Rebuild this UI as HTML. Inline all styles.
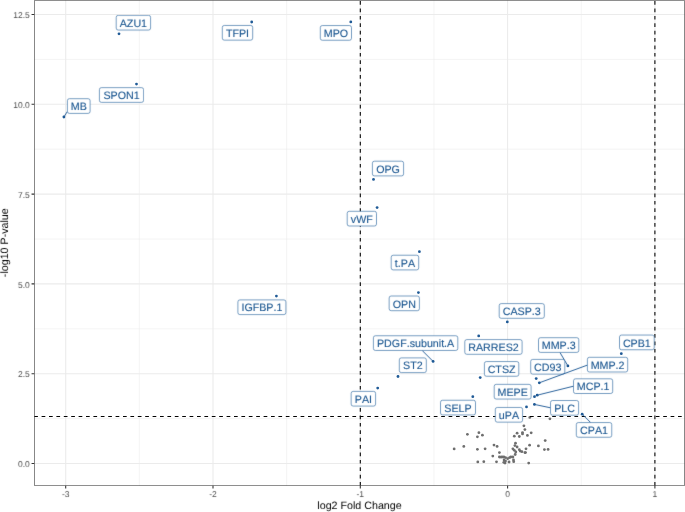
<!DOCTYPE html><html><head><meta charset="utf-8"><style>html,body{margin:0;padding:0;background:#fff;width:685px;height:512px;overflow:hidden}svg{display:block;will-change:transform}text{font-family:"Liberation Sans",sans-serif;font-kerning:none;text-rendering:geometricPrecision}</style></head><body>
<svg width="685" height="512" viewBox="0 0 685 512">
<defs><filter id="bl" x="0" y="0" width="685" height="512" filterUnits="userSpaceOnUse" color-interpolation-filters="sRGB"><feConvolveMatrix order="3" kernelMatrix="0.0064 0.0672 0.0064 0.0672 0.7056 0.0672 0.0064 0.0672 0.0064" edgeMode="duplicate"/></filter>
<clipPath id="pc"><rect x="34.2" y="0.2" width="650.60" height="485.60"/></clipPath></defs>
<rect x="0" y="0" width="685" height="512" fill="#fff"/>
<path d="M139.35 0.2V485.8M286.65 0.2V485.8M433.95 0.2V485.8M581.25 0.2V485.8M34.2 418.60H684.8M34.2 328.80H684.8M34.2 239.00H684.8M34.2 149.20H684.8M34.2 59.40H684.8" stroke="#ebebeb" stroke-width="0.535" fill="none"/>
<path d="M65.70 0.2V485.8M213.00 0.2V485.8M360.30 0.2V485.8M507.60 0.2V485.8M654.90 0.2V485.8M34.2 463.50H684.8M34.2 373.70H684.8M34.2 283.90H684.8M34.2 194.10H684.8M34.2 104.30H684.8M34.2 14.50H684.8" stroke="#ebebeb" stroke-width="1.07" fill="none"/>
<g>
<g fill="#6e6e6e">
<circle cx="467.4" cy="434.3" r="1.4"/>
<circle cx="478.9" cy="432.7" r="1.4"/>
<circle cx="477.4" cy="436.8" r="1.4"/>
<circle cx="482.4" cy="435.2" r="1.4"/>
<circle cx="454.15" cy="448.9" r="1.4"/>
<circle cx="463.8" cy="446.4" r="1.4"/>
<circle cx="477.4" cy="449.3" r="1.4"/>
<circle cx="485.1" cy="448.8" r="1.4"/>
<circle cx="494.0" cy="445.1" r="1.4"/>
<circle cx="497.1" cy="446.4" r="1.4"/>
<circle cx="499.4" cy="452.6" r="1.4"/>
<circle cx="492.8" cy="456.1" r="1.4"/>
<circle cx="477.8" cy="461.9" r="1.4"/>
<circle cx="483.8" cy="461.7" r="1.4"/>
<circle cx="496.5" cy="461.8" r="1.4"/>
<circle cx="523.9" cy="425.8" r="1.4"/>
<circle cx="524.9" cy="429.6" r="1.4"/>
<circle cx="517.1" cy="433.2" r="1.4"/>
<circle cx="522.5" cy="432.6" r="1.4"/>
<circle cx="522.5" cy="433.9" r="1.4"/>
<circle cx="514.3" cy="436.2" r="1.4"/>
<circle cx="519.3" cy="436.5" r="1.4"/>
<circle cx="527.4" cy="435.4" r="1.4"/>
<circle cx="531.2" cy="432.8" r="1.4"/>
<circle cx="515.5" cy="443.2" r="1.4"/>
<circle cx="514.9" cy="445.6" r="1.4"/>
<circle cx="517.1" cy="447.0" r="1.4"/>
<circle cx="529.6" cy="445.2" r="1.4"/>
<circle cx="526.0" cy="448.8" r="1.4"/>
<circle cx="512.9" cy="448.8" r="1.4"/>
<circle cx="514.3" cy="450.3" r="1.4"/>
<circle cx="515.8" cy="452.0" r="1.4"/>
<circle cx="515.2" cy="454.5" r="1.4"/>
<circle cx="519.3" cy="449.7" r="1.4"/>
<circle cx="520.2" cy="451.1" r="1.4"/>
<circle cx="521.9" cy="451.7" r="1.4"/>
<circle cx="524.9" cy="452.6" r="1.4"/>
<circle cx="499.4" cy="457.0" r="1.4"/>
<circle cx="502.0" cy="457.0" r="1.4"/>
<circle cx="503.8" cy="457.0" r="1.4"/>
<circle cx="505.5" cy="457.6" r="1.4"/>
<circle cx="504.1" cy="459.9" r="1.4"/>
<circle cx="503.8" cy="462.3" r="1.4"/>
<circle cx="505.5" cy="461.1" r="1.4"/>
<circle cx="507.6" cy="458.7" r="1.4"/>
<circle cx="509.1" cy="462.0" r="1.4"/>
<circle cx="509.6" cy="457.6" r="1.4"/>
<circle cx="510.8" cy="457.0" r="1.4"/>
<circle cx="512.9" cy="457.0" r="1.4"/>
<circle cx="513.5" cy="459.9" r="1.4"/>
<circle cx="513.7" cy="461.7" r="1.4"/>
<circle cx="528.7" cy="463.1" r="1.4"/>
<circle cx="529.8" cy="417.4" r="1.4"/>
<circle cx="549.9" cy="418.8" r="1.4"/>
<circle cx="545.2" cy="440.6" r="1.4"/>
<circle cx="538.4" cy="445.9" r="1.4"/>
<circle cx="544.4" cy="449.6" r="1.4"/>
<circle cx="548.1" cy="449.4" r="1.4"/>
<circle cx="525.5" cy="452.6" r="1.4"/>
<circle cx="500.8" cy="457.1" r="1.4"/>
<circle cx="505.0" cy="463.0" r="1.4"/>
</g>
<g fill="#1f5a96">
<circle cx="119.0" cy="33.8" r="1.4"/>
<circle cx="251.7" cy="22.0" r="1.4"/>
<circle cx="350.8" cy="21.9" r="1.4"/>
<circle cx="136.5" cy="84.1" r="1.4"/>
<circle cx="63.9" cy="117.0" r="1.4"/>
<circle cx="373.5" cy="179.4" r="1.4"/>
<circle cx="377.1" cy="207.6" r="1.4"/>
<circle cx="419.4" cy="251.7" r="1.4"/>
<circle cx="418.4" cy="292.6" r="1.4"/>
<circle cx="276.4" cy="296.1" r="1.4"/>
<circle cx="507.3" cy="321.9" r="1.4"/>
<circle cx="433.1" cy="361.4" r="1.4"/>
<circle cx="478.7" cy="335.9" r="1.4"/>
<circle cx="567.9" cy="365.9" r="1.4"/>
<circle cx="621.3" cy="353.7" r="1.4"/>
<circle cx="536.2" cy="378.6" r="1.4"/>
<circle cx="539.3" cy="382.8" r="1.4"/>
<circle cx="398.0" cy="376.5" r="1.4"/>
<circle cx="480.2" cy="377.6" r="1.4"/>
<circle cx="534.5" cy="396.7" r="1.4"/>
<circle cx="537.2" cy="395.2" r="1.4"/>
<circle cx="377.7" cy="388.1" r="1.4"/>
<circle cx="472.8" cy="396.7" r="1.4"/>
<circle cx="526.5" cy="406.9" r="1.4"/>
<circle cx="534.4" cy="404.4" r="1.4"/>
<circle cx="582.2" cy="414.2" r="1.4"/>
</g></g>
<path d="M34.2 416.5H684.8" stroke="#000" stroke-width="1.07" stroke-dasharray="3.7 3.7" fill="none"/>
<path d="M360.30 485.8V0.2" stroke="#000" stroke-width="1.07" stroke-dasharray="3.7 3.7" fill="none"/>
<path d="M654.90 485.8V0.2" stroke="#000" stroke-width="1.07" stroke-dasharray="3.7 3.7" fill="none"/>
<g filter="url(#bl)">
<rect x="116.2" y="15.35" width="34.40" height="14.7" rx="2" ry="2" fill="#fff" stroke="#1d5c99" stroke-width="0.6"/>
<text transform="translate(133.40 26.90) scale(1.0 1)" font-size="10.7" fill="#1a5690" stroke="#1a5690" stroke-width="0.12" text-anchor="middle">AZU1</text>
<rect x="222.3" y="25.45" width="30.40" height="14.7" rx="2" ry="2" fill="#fff" stroke="#1d5c99" stroke-width="0.6"/>
<text transform="translate(237.50 37.00) scale(1.0 1)" font-size="10.7" fill="#1a5690" stroke="#1a5690" stroke-width="0.12" text-anchor="middle">TFPI</text>
<rect x="320.3" y="25.55" width="31.20" height="14.7" rx="2" ry="2" fill="#fff" stroke="#1d5c99" stroke-width="0.6"/>
<text transform="translate(335.90 37.10) scale(1.0 1)" font-size="10.7" fill="#1a5690" stroke="#1a5690" stroke-width="0.12" text-anchor="middle">MPO</text>
<rect x="99.4" y="87.65" width="44.20" height="14.7" rx="2" ry="2" fill="#fff" stroke="#1d5c99" stroke-width="0.6"/>
<text transform="translate(121.50 99.20) scale(1.0 1)" font-size="10.7" fill="#1a5690" stroke="#1a5690" stroke-width="0.12" text-anchor="middle">SPON1</text>
<path d="M63.9 117.0L67.4 111.4" stroke="#1f5a96" stroke-width="0.95" fill="none"/>
<rect x="67.4" y="98.70" width="22.70" height="14.7" rx="2" ry="2" fill="#fff" stroke="#1d5c99" stroke-width="0.6"/>
<text transform="translate(78.75 110.25) scale(1.0 1)" font-size="10.7" fill="#1a5690" stroke="#1a5690" stroke-width="0.12" text-anchor="middle">MB</text>
<rect x="372.4" y="161.20" width="31.20" height="14.7" rx="2" ry="2" fill="#fff" stroke="#1d5c99" stroke-width="0.6"/>
<text transform="translate(388.00 172.75) scale(1.0 1)" font-size="10.7" fill="#1a5690" stroke="#1a5690" stroke-width="0.12" text-anchor="middle">OPG</text>
<rect x="347.2" y="211.30" width="29.30" height="14.7" rx="2" ry="2" fill="#fff" stroke="#1d5c99" stroke-width="0.6"/>
<text transform="translate(361.85 222.85) scale(1.0 1)" font-size="10.7" fill="#1a5690" stroke="#1a5690" stroke-width="0.12" text-anchor="middle">vWF</text>
<rect x="391.2" y="255.22" width="27.50" height="14.7" rx="2" ry="2" fill="#fff" stroke="#1d5c99" stroke-width="0.6"/>
<text transform="translate(404.95 266.77) scale(1.0 1)" font-size="10.7" fill="#1a5690" stroke="#1a5690" stroke-width="0.12" text-anchor="middle">t.PA</text>
<rect x="389.15" y="296.00" width="30.25" height="14.7" rx="2" ry="2" fill="#fff" stroke="#1d5c99" stroke-width="0.6"/>
<text transform="translate(404.27 307.55) scale(1.0 1)" font-size="10.7" fill="#1a5690" stroke="#1a5690" stroke-width="0.12" text-anchor="middle">OPN</text>
<rect x="237.9" y="299.90" width="48.00" height="14.7" rx="2" ry="2" fill="#fff" stroke="#1d5c99" stroke-width="0.6"/>
<text transform="translate(261.90 311.45) scale(1.0 1)" font-size="10.7" fill="#1a5690" stroke="#1a5690" stroke-width="0.12" text-anchor="middle">IGFBP.1</text>
<rect x="499.2" y="303.60" width="45.10" height="14.7" rx="2" ry="2" fill="#fff" stroke="#1d5c99" stroke-width="0.6"/>
<text transform="translate(521.75 315.15) scale(1.0 1)" font-size="10.7" fill="#1a5690" stroke="#1a5690" stroke-width="0.12" text-anchor="middle">CASP.3</text>
<path d="M433.1 361.4L422.2 350.5" stroke="#1f5a96" stroke-width="0.95" fill="none"/>
<rect x="373.4" y="335.75" width="84.40" height="14.7" rx="2" ry="2" fill="#fff" stroke="#1d5c99" stroke-width="0.6"/>
<text transform="translate(415.60 347.30) scale(1.0 1)" font-size="10.7" fill="#1a5690" stroke="#1a5690" stroke-width="0.12" text-anchor="middle">PDGF.subunit.A</text>
<rect x="464.8" y="339.60" width="57.30" height="14.7" rx="2" ry="2" fill="#fff" stroke="#1d5c99" stroke-width="0.6"/>
<text transform="translate(493.45 351.15) scale(1.0 1)" font-size="10.7" fill="#1a5690" stroke="#1a5690" stroke-width="0.12" text-anchor="middle">RARRES2</text>
<path d="M567.9 365.9L559.9 352.4" stroke="#1f5a96" stroke-width="0.95" fill="none"/>
<rect x="538.5" y="337.70" width="40.30" height="14.7" rx="2" ry="2" fill="#fff" stroke="#1d5c99" stroke-width="0.6"/>
<text transform="translate(558.65 349.25) scale(1.0 1)" font-size="10.7" fill="#1a5690" stroke="#1a5690" stroke-width="0.12" text-anchor="middle">MMP.3</text>
<rect x="619.5" y="335.05" width="34.70" height="14.7" rx="2" ry="2" fill="#fff" stroke="#1d5c99" stroke-width="0.6"/>
<text transform="translate(636.85 346.60) scale(1.0 1)" font-size="10.7" fill="#1a5690" stroke="#1a5690" stroke-width="0.12" text-anchor="middle">CPB1</text>
<rect x="530.7" y="359.40" width="34.10" height="14.7" rx="2" ry="2" fill="#fff" stroke="#1d5c99" stroke-width="0.6"/>
<text transform="translate(547.75 370.95) scale(1.0 1)" font-size="10.7" fill="#1a5690" stroke="#1a5690" stroke-width="0.12" text-anchor="middle">CD93</text>
<path d="M539.3 382.8L587.4 365.1" stroke="#1f5a96" stroke-width="0.95" fill="none"/>
<rect x="587.4" y="357.30" width="40.30" height="14.7" rx="2" ry="2" fill="#fff" stroke="#1d5c99" stroke-width="0.6"/>
<text transform="translate(607.55 368.85) scale(1.0 1)" font-size="10.7" fill="#1a5690" stroke="#1a5690" stroke-width="0.12" text-anchor="middle">MMP.2</text>
<rect x="399.3" y="357.90" width="27.00" height="14.7" rx="2" ry="2" fill="#fff" stroke="#1d5c99" stroke-width="0.6"/>
<text transform="translate(412.80 369.45) scale(1.0 1)" font-size="10.7" fill="#1a5690" stroke="#1a5690" stroke-width="0.12" text-anchor="middle">ST2</text>
<rect x="484.4" y="361.55" width="34.40" height="14.7" rx="2" ry="2" fill="#fff" stroke="#1d5c99" stroke-width="0.6"/>
<text transform="translate(501.60 373.10) scale(1.0 1)" font-size="10.7" fill="#1a5690" stroke="#1a5690" stroke-width="0.12" text-anchor="middle">CTSZ</text>
<rect x="494.2" y="384.35" width="36.90" height="14.7" rx="2" ry="2" fill="#fff" stroke="#1d5c99" stroke-width="0.6"/>
<text transform="translate(512.65 395.90) scale(1.0 1)" font-size="10.7" fill="#1a5690" stroke="#1a5690" stroke-width="0.12" text-anchor="middle">MEPE</text>
<path d="M537.2 395.2L573.5 386.2" stroke="#1f5a96" stroke-width="0.95" fill="none"/>
<rect x="573.5" y="378.80" width="39.20" height="14.7" rx="2" ry="2" fill="#fff" stroke="#1d5c99" stroke-width="0.6"/>
<text transform="translate(593.10 390.35) scale(1.0 1)" font-size="10.7" fill="#1a5690" stroke="#1a5690" stroke-width="0.12" text-anchor="middle">MCP.1</text>
<rect x="351.15" y="391.38" width="24.45" height="14.7" rx="2" ry="2" fill="#fff" stroke="#1d5c99" stroke-width="0.6"/>
<text transform="translate(363.38 402.93) scale(1.0 1)" font-size="10.7" fill="#1a5690" stroke="#1a5690" stroke-width="0.12" text-anchor="middle">PAI</text>
<rect x="440.5" y="400.25" width="35.00" height="14.7" rx="2" ry="2" fill="#fff" stroke="#1d5c99" stroke-width="0.6"/>
<text transform="translate(458.00 411.80) scale(1.0 1)" font-size="10.7" fill="#1a5690" stroke="#1a5690" stroke-width="0.12" text-anchor="middle">SELP</text>
<rect x="495.3" y="407.45" width="27.30" height="14.7" rx="2" ry="2" fill="#fff" stroke="#1d5c99" stroke-width="0.6"/>
<text transform="translate(508.95 419.00) scale(1.0 1)" font-size="10.7" fill="#1a5690" stroke="#1a5690" stroke-width="0.12" text-anchor="middle">uPA</text>
<path d="M534.4 404.4L550.5 407.8" stroke="#1f5a96" stroke-width="0.95" fill="none"/>
<rect x="550.5" y="400.50" width="28.10" height="14.7" rx="2" ry="2" fill="#fff" stroke="#1d5c99" stroke-width="0.6"/>
<text transform="translate(564.55 412.05) scale(1.0 1)" font-size="10.7" fill="#1a5690" stroke="#1a5690" stroke-width="0.12" text-anchor="middle">PLC</text>
<path d="M582.2 414.2L590.7 422.6" stroke="#1f5a96" stroke-width="0.95" fill="none"/>
<rect x="576.3" y="422.55" width="35.45" height="14.7" rx="2" ry="2" fill="#fff" stroke="#1d5c99" stroke-width="0.6"/>
<text transform="translate(594.02 434.10) scale(1.0 1)" font-size="10.7" fill="#1a5690" stroke="#1a5690" stroke-width="0.12" text-anchor="middle">CPA1</text>
</g>
<rect x="34.2" y="0.2" width="650.60" height="485.60" fill="none" stroke="#333" stroke-width="1.07" clip-path="url(#pc)"/>
<path d="M65.70 485.8V488.45M213.00 485.8V488.45M360.30 485.8V488.45M507.60 485.8V488.45M654.90 485.8V488.45M34.2 463.50H31.550000000000004M34.2 373.70H31.550000000000004M34.2 283.90H31.550000000000004M34.2 194.10H31.550000000000004M34.2 104.30H31.550000000000004M34.2 14.50H31.550000000000004" stroke="#333" stroke-width="1.07" fill="none"/>
<g filter="url(#bl)">
<text x="65.70" y="497.0" font-size="8.5" fill="#4d4d4d" text-anchor="middle">-3</text>
<text x="213.00" y="497.0" font-size="8.5" fill="#4d4d4d" text-anchor="middle">-2</text>
<text x="360.30" y="497.0" font-size="8.5" fill="#4d4d4d" text-anchor="middle">-1</text>
<text x="507.60" y="497.0" font-size="8.5" fill="#4d4d4d" text-anchor="middle">0</text>
<text x="654.90" y="497.0" font-size="8.5" fill="#4d4d4d" text-anchor="middle">1</text>
<text x="29.8" y="467.20" font-size="8.5" fill="#4d4d4d" text-anchor="end">0.0</text>
<text x="29.8" y="377.40" font-size="8.5" fill="#4d4d4d" text-anchor="end">2.5</text>
<text x="29.8" y="287.60" font-size="8.5" fill="#4d4d4d" text-anchor="end">5.0</text>
<text x="29.8" y="197.80" font-size="8.5" fill="#4d4d4d" text-anchor="end">7.5</text>
<text x="29.8" y="108.00" font-size="8.5" fill="#4d4d4d" text-anchor="end">10.0</text>
<text x="29.8" y="18.20" font-size="8.5" fill="#4d4d4d" text-anchor="end">12.5</text>
<text x="359.5" y="508.9" font-size="10.7" fill="#000" text-anchor="middle">log2 Fold Change</text>
<text transform="translate(8.4 242.7) rotate(-90)" x="0" y="0" font-size="10.7" fill="#000" text-anchor="middle">-log10 P-value</text>
</g>
</svg></body></html>
